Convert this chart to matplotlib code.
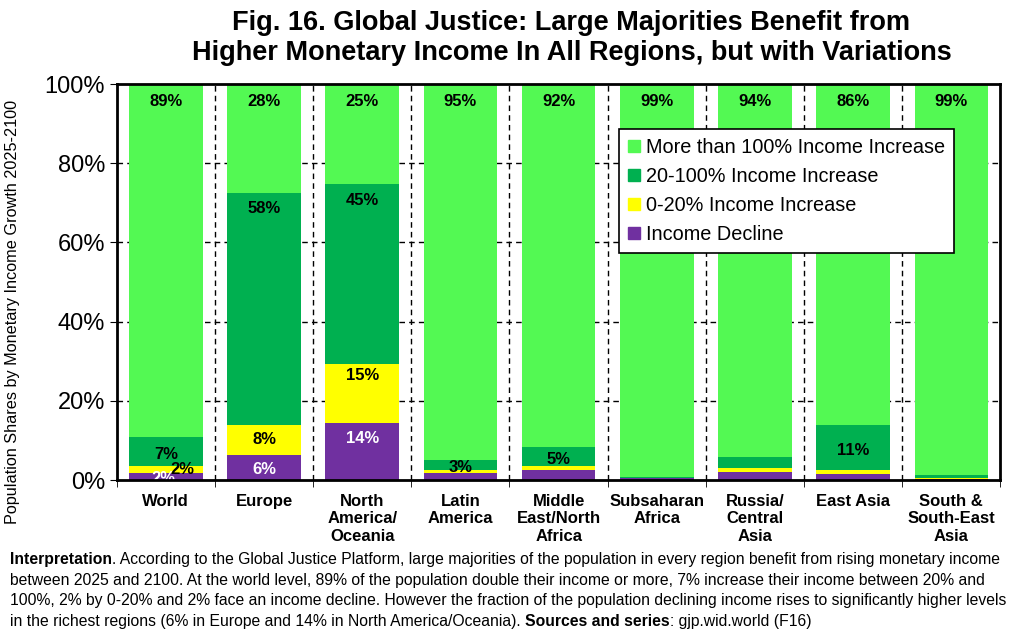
import numpy as np
import matplotlib
matplotlib.use("Agg")
import matplotlib.pyplot as plt
from matplotlib.patches import Patch

plt.rcParams['font.family'] = ['Liberation Sans', 'DejaVu Sans']

# Data (shares in %)
regions = ["World", "Europe", "North\nAmerica/\nOceania", "Latin\nAmerica",
           "Middle\nEast/North\nAfrica", "Subsaharan\nAfrica", "Russia/\nCentral\nAsia",
           "East Asia", "South &\nSouth-East\nAsia"]
decline = [1.8, 6.3, 14.5, 1.8, 2.5, 0.5, 2.0, 1.4, 0.3]
inc_0_20 = [1.7, 7.7, 14.8, 0.7, 1.0, 0.05, 1.0, 1.1, 0.1]
inc_20_100 = [7.4, 58.5, 45.4, 2.5, 4.8, 0.1, 2.9, 11.4, 0.9]
inc_100 = [89.1, 27.5, 25.3, 95.0, 91.7, 99.35, 94.1, 86.1, 98.7]

# labels shown on the chart (None = no label)
lab_100 = ["89%", "28%", "25%", "95%", "92%", "99%", "94%", "86%", "99%"]
lab_20_100 = ["7%", "58%", "45%", "3%", "5%", None, None, "11%", None]
lab_0_20 = ["2%", "8%", "15%", None, None, None, None, None, None]
lab_decline = ["2%", "6%", "14%", None, None, None, None, None, None]

c_100 = "#53F953"
c_20_100 = "#00B050"
c_0_20 = "#FFFF00"
c_decl = "#7030A0"

fig = plt.figure(figsize=(10.24, 6.32), dpi=100)
ax = fig.add_axes([0.114, 0.2405, 0.863, 0.6265])

x = np.arange(len(regions))
w = 0.75
decline = np.array(decline)
inc_0_20 = np.array(inc_0_20)
inc_20_100 = np.array(inc_20_100)
inc_100 = np.array(inc_100)

ax.bar(x, decline, w, color=c_decl, zorder=3)
ax.bar(x, inc_0_20, w, bottom=decline, color=c_0_20, zorder=3)
b2 = decline + inc_0_20
ax.bar(x, inc_20_100, w, bottom=b2, color=c_20_100, zorder=3)
b3 = b2 + inc_20_100
ax.bar(x, inc_100, w, bottom=b3, color=c_100, zorder=3)

lab_kw = dict(ha="center", va="center", fontsize=12, fontweight="bold", zorder=5)
for i in range(len(regions)):
    ax.text(x[i], 95.5, lab_100[i], color="black", **lab_kw)
    if lab_20_100[i]:
        if inc_20_100[i] > 30:
            yy = b3[i] - 4
        else:
            yy = b2[i] + inc_20_100[i] / 2 - 0.7
        ax.text(x[i], yy, lab_20_100[i], color="black", **lab_kw)
    if lab_0_20[i]:
        if i == 0:
            ax.text(x[i] + 0.17, decline[i] + inc_0_20[i] / 2, lab_0_20[i], color="black", **lab_kw)
        elif inc_0_20[i] > 12:
            ax.text(x[i], b2[i] - 3, lab_0_20[i], color="black", **lab_kw)
        else:
            ax.text(x[i], decline[i] + inc_0_20[i] / 2, lab_0_20[i], color="black", **lab_kw)
    if lab_decline[i]:
        if i == 0:
            ax.text(x[i] - 0.02, 0.4, lab_decline[i], color="white", **lab_kw)
        elif decline[i] > 12:
            ax.text(x[i], decline[i] - 4, lab_decline[i], color="white", **lab_kw)
        else:
            ax.text(x[i], decline[i] / 2 - 0.5, lab_decline[i], color="white", **lab_kw)

ax.set_xlim(-0.5, len(regions) - 0.5)
ax.set_ylim(0, 100)
ax.set_yticks(np.arange(0, 101, 20))
ax.set_yticklabels([f"{v}%" for v in range(0, 101, 20)], fontsize=17)
ax.set_xticks(x)
ax.set_xticklabels(regions, fontsize=12, fontweight="bold", linespacing=1.2)
ax.set_xticks(np.arange(-0.5, len(regions), 1), minor=True)
ax.tick_params(axis="x", which="major", length=0, pad=10)
ax.tick_params(axis="x", which="minor", length=5, direction="out")
ax.tick_params(axis="y", length=5, direction="out")

for v in range(20, 100, 20):
    ax.axhline(v, color="black", ls=(0, (4, 3)), lw=1, zorder=1)
for b in np.arange(0.5, len(regions) - 1, 1):
    ax.axvline(b, color="black", ls=(0, (4, 3)), lw=1, zorder=1)

for s in ax.spines.values():
    s.set_linewidth(2)
    s.set_zorder(6)

ax.set_ylabel("Population Shares by Monetary Income Growth 2025-2100", fontsize=11.7)
ax.yaxis.set_label_coords(-0.109, 0.424)

handles = [Patch(color=c_100), Patch(color=c_20_100), Patch(color=c_0_20), Patch(color=c_decl)]
names = ["More than 100% Income Increase", "20-100% Income Increase",
         "0-20% Income Increase", "Income Decline"]
leg = ax.legend(handles, names, loc="upper left", bbox_to_anchor=(0.5685, 0.886),
                fontsize=14.3, frameon=True, fancybox=False, framealpha=1,
                handlelength=0.6, handleheight=0.6, handletextpad=0.3,
                labelspacing=0.5, borderpad=0.45, borderaxespad=0)
leg.get_frame().set_edgecolor("black")
leg.get_frame().set_linewidth(1.2)
leg.set_zorder(7)

fig.text(0.558, 0.984, "Fig. 16. Global Justice: Large Majorities Benefit from\n"
         "Higher Monetary Income In All Regions, but with Variations",
         ha="center", va="top", fontsize=19.5, fontweight="bold", linespacing=1.2)

# interpretation note with bold lead-ins
fs = 11.3
lines_y = [0.108, 0.075, 0.042, 0.010]
fig.canvas.draw()
r = fig.canvas.get_renderer()


def run(y, parts):
    xpos = 0.01
    for txt, bold in parts:
        t = fig.text(xpos, y, txt, fontsize=fs, fontweight="bold" if bold else "normal",
                     ha="left", va="baseline")
        bb = t.get_window_extent(renderer=r)
        xpos += bb.width / fig.bbox.width


run(lines_y[0], [("Interpretation", True), (". According to the Global Justice Platform, large majorities of the population in every region benefit from rising monetary income", False)])
run(lines_y[1], [("between 2025 and 2100. At the world level, 89% of the population double their income or more, 7% increase their income between 20% and", False)])
run(lines_y[2], [("100%, 2% by 0-20% and 2% face an income decline. However the fraction of the population declining income rises to significantly higher levels", False)])
run(lines_y[3], [("in the richest regions (6% in Europe and 14% in North America/Oceania). ", False), ("Sources and series", True), (": gjp.wid.world (F16)", False)])

fig.savefig("out.png", dpi=100)
